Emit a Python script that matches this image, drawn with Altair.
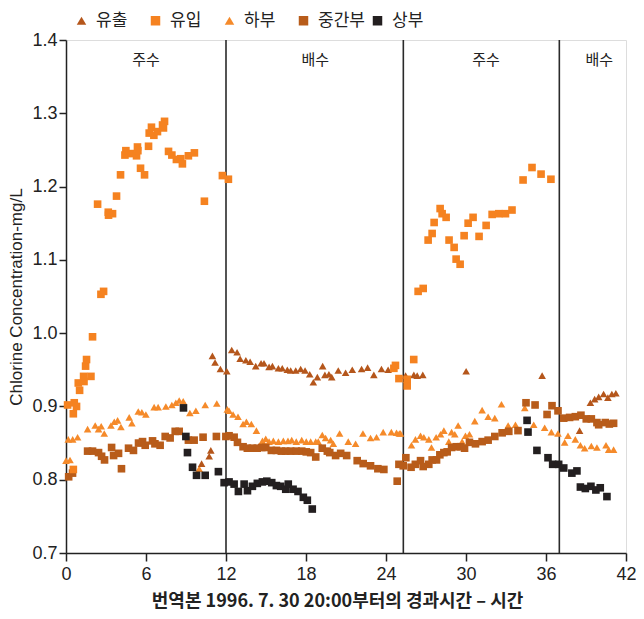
import altair as alt
import pandas as pd

# ---------------- data ----------------
series_names = ["유출", "유입", "하부", "중간부", "상부"]
series_colors = ["#B5561B", "#F58220", "#F58A2A", "#B85C1A", "#231F20"]
series_shapes = ["triangle-up", "square", "triangle-up", "square", "square"]

# 유출 (outflow)
outflow_x = [10.17, 10.74, 10.86, 10.98, 11.18, 11.58, 12.06, 12.43, 12.83, 13.06, 13.49, 13.81,
             14.23, 14.63, 14.85, 15.23, 15.48, 15.93, 16.22, 16.6, 16.85, 17.23, 17.6, 17.93,
             18.28, 18.55, 18.85, 19.25, 19.42, 19.72, 19.93, 20.42, 20.97, 21.47, 22.17, 22.62,
             23.09, 23.66, 24.16, 25.47, 26.09, 26.34, 26.76, 30.01, 35.71, 38.52,
             39.33, 39.65, 39.95, 40.32, 40.64, 40.94, 41.24]
outflow_y = [0.822, 0.832, 0.840, 0.969, 0.960, 0.951, 0.948, 0.977, 0.974, 0.965, 0.963, 0.961,
             0.955, 0.959, 0.959, 0.954, 0.955, 0.952, 0.952, 0.950, 0.949, 0.949, 0.951, 0.949,
             0.944, 0.933, 0.940, 0.955, 0.943, 0.944, 0.940, 0.949, 0.946, 0.950, 0.951, 0.953,
             0.943, 0.951, 0.950, 0.942, 0.943, 0.942, 0.943, 0.948, 0.942, 0.867,
             0.905, 0.910, 0.913, 0.917, 0.912, 0.917, 0.918]

# 유입 (inflow)
inflow_x = [0.12, 0.55, 0.62, 0.79, 0.55, 0.92, 1.02, 1.35, 1.32, 1.87, 1.47, 1.54, 1.99,
            2.62, 2.82, 2.37, 3.17, 3.49, 3.19, 3.79, 4.09, 4.42, 4.49, 4.87, 5.29, 5.36,
            5.39, 5.59, 5.89, 6.19, 6.24, 6.41, 6.59, 6.86, 7.24, 7.31, 7.39, 7.69, 7.94,
            8.28, 8.61, 8.73, 9.18, 9.63, 10.38, 11.73, 12.18,
            24.59, 24.71, 24.97, 25.59, 25.59, 26.08, 26.41, 26.79, 27.16, 27.46, 27.61, 28.06,
            28.21, 28.51, 28.73, 29.11, 29.26, 29.56, 29.86, 30.16, 30.53, 30.98, 31.51,
            31.96, 32.46, 32.96, 33.45, 34.28, 34.95, 35.63, 36.37]
inflow_y = [0.902, 0.890, 0.905, 0.900, 0.814, 0.932, 0.922, 0.934, 0.941, 0.941, 0.955, 0.964, 0.995,
            1.053, 1.057, 1.176, 1.165, 1.163, 1.161, 1.187, 1.216, 1.243, 1.249, 1.245, 1.242, 1.254,
            1.249, 1.225, 1.216, 1.255, 1.273, 1.281, 1.270, 1.275, 1.284, 1.280, 1.289, 1.248, 1.243,
            1.237, 1.238, 1.231, 1.242, 1.246, 1.180, 1.215, 1.210,
            0.952, 0.956, 0.938, 0.937, 0.928, 0.964, 1.057, 1.061, 1.127, 1.136, 1.151, 1.170,
            1.163, 1.158, 1.127, 1.117, 1.101, 1.094, 1.133, 1.150, 1.158, 1.132, 1.147,
            1.162, 1.163, 1.163, 1.168, 1.209, 1.226, 1.217, 1.210]

# 하부 (lower)
lower_x = [0.0, 0.3, 0.17, 0.5, 0.87, 1.62, 2.19, 2.44, 2.64, 2.87, 3.37, 3.62, 3.87, 4.12,
           4.74, 4.94, 5.42, 5.69, 5.99, 6.61, 6.91, 7.49, 7.94, 8.24, 8.49, 8.79, 9.29, 9.74,
           9.99, 10.44, 11.31, 12.1, 12.23, 12.53, 12.9, 13.28, 13.53, 13.9, 14.28, 14.73,
           14.98, 15.23, 15.55, 15.93, 16.3, 16.65, 16.93, 17.27, 17.68, 18.02, 18.35, 18.73,
           18.92, 19.22, 19.47, 19.85, 20.05, 20.52, 21.17, 21.72, 22.27, 22.84, 23.29, 23.79,
           24.4, 24.79, 25.0, 25.09, 25.91, 26.21, 26.59, 26.84, 27.21, 27.41, 27.76, 28.09,
           28.34, 28.71, 28.92, 29.16, 29.41, 29.71, 29.96, 30.26, 30.66, 31.21, 31.66, 32.16,
           32.66, 33.16, 33.71, 34.41, 35.08, 35.9, 36.4, 36.9, 37.4, 37.65, 38.2, 38.58, 38.9,
           39.4, 39.82, 40.5, 40.7, 41.07]
lower_y = [0.826, 0.827, 0.855, 0.855, 0.858, 0.869, 0.874, 0.869, 0.873, 0.863, 0.874, 0.879, 0.881, 0.872,
           0.885, 0.877, 0.893, 0.892, 0.889, 0.899, 0.899, 0.900, 0.902, 0.905, 0.908, 0.907, 0.891, 0.894,
           0.815, 0.902, 0.904, 0.896, 0.894, 0.889, 0.886, 0.876, 0.879, 0.876, 0.867, 0.853,
           0.856, 0.852, 0.853, 0.852, 0.853, 0.853, 0.854, 0.852, 0.854, 0.852, 0.852, 0.852,
           0.852, 0.861, 0.857, 0.854, 0.849, 0.863, 0.852, 0.849, 0.863, 0.857, 0.858, 0.865,
           0.865, 0.864, 0.863, 0.863, 0.847, 0.855, 0.860, 0.858, 0.855, 0.844, 0.858, 0.862,
           0.867, 0.852, 0.865, 0.862, 0.874, 0.852, 0.860, 0.862, 0.880, 0.895, 0.886, 0.884,
           0.903, 0.874, 0.875, 0.898, 0.875, 0.871, 0.865, 0.863, 0.851, 0.860, 0.855, 0.847, 0.843,
           0.846, 0.844, 0.847, 0.841, 0.841]

# 중간부 (middle)
middle_x = [0.2, 0.49, 1.62, 1.99, 2.44, 2.67, 2.89, 3.42, 3.57, 3.94, 4.16, 4.69, 5.06, 5.44,
            5.74, 5.94, 6.49, 6.67, 7.06, 7.44, 7.81, 8.19, 8.49, 9.18, 9.61, 10.28, 11.28, 11.99,
            12.23, 12.61, 12.86, 13.28, 13.6, 13.98, 14.35, 14.68, 14.98, 15.4, 15.78, 16.15,
            16.48, 16.85, 17.27, 17.68, 18.02, 18.35, 18.73, 19.22, 19.6, 19.78, 20.22, 20.6,
            21.05, 21.84, 22.29, 22.84, 23.39, 23.84, 24.84, 24.97, 25.29, 25.49, 25.88, 26.2,
            26.59, 26.79, 27.21, 27.46, 27.79, 28.04, 28.34, 28.59, 28.92, 29.26, 29.59, 29.89,
            30.26, 30.71, 31.21, 31.66, 32.16, 32.71, 33.21, 33.9, 34.5, 35.18, 36.08, 36.45,
            36.9, 37.33, 37.77, 38.2, 38.62, 39.02, 39.4, 39.82, 39.95, 40.45, 40.75, 41.07]
middle_y = [0.804, 0.809, 0.839, 0.839, 0.837, 0.832, 0.827, 0.844, 0.833, 0.836, 0.815, 0.843, 0.840, 0.850,
            0.852, 0.847, 0.853, 0.849, 0.847, 0.859, 0.857, 0.866, 0.866, 0.854, 0.854, 0.858, 0.859, 0.859,
            0.860, 0.858, 0.851, 0.845, 0.843, 0.843, 0.843, 0.844, 0.844, 0.840, 0.840, 0.839,
            0.839, 0.839, 0.839, 0.839, 0.838, 0.837, 0.831, 0.843, 0.839, 0.837, 0.833, 0.836,
            0.833, 0.826, 0.822, 0.819, 0.815, 0.814, 0.798, 0.821, 0.819, 0.830, 0.817, 0.821,
            0.826, 0.818, 0.821, 0.827, 0.827, 0.834, 0.837, 0.838, 0.844, 0.845, 0.845, 0.843,
            0.851, 0.849, 0.852, 0.854, 0.859, 0.864, 0.866, 0.867, 0.905, 0.902, 0.889, 0.901,
            0.894, 0.884, 0.885, 0.886, 0.888, 0.883, 0.883, 0.878, 0.875, 0.878, 0.876, 0.877]

# 상부 (upper)
upper_x = [8.81, 8.99, 9.11, 9.49, 9.79, 10.44, 11.43, 11.86, 12.23, 12.61, 12.93, 13.36, 13.61,
           13.98, 14.35, 14.73, 15.06, 15.43, 15.78, 16.1, 16.48, 16.67, 17.03, 17.4, 17.8, 18.1,
           18.47, 34.58, 34.65, 35.32, 36.15, 36.5, 36.95, 37.33, 37.94, 38.32, 38.58, 38.95,
           39.37, 39.74, 40.07, 40.57]
upper_y = [0.898, 0.859, 0.837, 0.817, 0.806, 0.806, 0.811, 0.796, 0.797, 0.794, 0.784, 0.794, 0.785,
           0.791, 0.795, 0.797, 0.798, 0.796, 0.792, 0.791, 0.787, 0.794, 0.787, 0.784, 0.776, 0.772,
           0.760, 0.881, 0.865, 0.840, 0.830, 0.821, 0.821, 0.816, 0.809, 0.812, 0.790, 0.788,
           0.791, 0.786, 0.789, 0.777]

x_ticks = [0, 6, 12, 18, 24, 30, 36, 42]
y_ticks = [0.7, 0.8, 0.9, 1.0, 1.1, 1.2, 1.3, 1.4]
phase_boundaries = [12, 25.3, 37]
phase_labels = ["주수", "배수", "주수", "배수"]
phase_label_x = [6, 18.7, 31.5, 40]
phase_label_y = [1.373, 1.373, 1.373, 1.373]

x_title = "번역본 1996. 7. 30 20:00부터의 경과시간 – 시간"
y_title = "Chlorine Concentration-mg/L"

# ---------------- build tables ----------------
draw_order = ["하부", "유출", "중간부", "유입", "상부"]
series_data = {
    "유출": (outflow_x, outflow_y),
    "유입": (inflow_x, inflow_y),
    "하부": (lower_x, lower_y),
    "중간부": (middle_x, middle_y),
    "상부": (upper_x, upper_y),
}
rows = []
for name in draw_order:
    xs, ys = series_data[name]
    for xv, yv in zip(xs, ys):
        rows.append({"t": xv, "c": yv, "series": name})
points_df = pd.DataFrame(rows)
bound_df = pd.DataFrame({"t": phase_boundaries})
label_df = pd.DataFrame({"t": phase_label_x, "c": phase_label_y, "label": phase_labels})

W, H = 560, 513
NUM_FONT = "Liberation Sans Narrow, Liberation Sans, Arial, sans-serif"
KR_FONT = "Noto Sans CJK KR"

x_scale = alt.Scale(domain=[0, 42], nice=False, zero=False)
y_scale = alt.Scale(domain=[0.7, 1.4], nice=False, zero=False)

x_enc = alt.X(
    "t:Q", scale=x_scale,
    axis=alt.Axis(values=x_ticks, title=x_title, tickSize=8, tickWidth=1.5, tickColor="#222",
                  labelPadding=4, labelFont=NUM_FONT, labelFontSize=18, labelColor="#222",
                  titleFont=KR_FONT, titleFontSize=18, titleFontWeight="bold",
                  titleColor="#222", titleX=271, titleY=53, titleAlign="center",
                  titleBaseline="alphabetic", grid=False,
                  domainColor="#222", domainWidth=1.5, labelFlush=False),
)
y_enc = alt.Y(
    "c:Q", scale=y_scale,
    axis=alt.Axis(values=y_ticks, format=".1f", title=y_title, tickSize=7, tickWidth=1.5,
                  tickColor="#222", labelPadding=2, labelFont=NUM_FONT, labelFontSize=18,
                  labelColor="#222", titleFont="Liberation Sans, Arial, sans-serif",
                  titleFontSize=17, titleFontWeight="normal", titleColor="#222",
                  titleAngle=270, titleX=-45, titleY=H / 2, titleAlign="center",
                  titleBaseline="alphabetic", grid=False, domainColor="#222", domainWidth=1.5,
                  labelFlush=False),
)

rules = alt.Chart(bound_df).mark_rule(color="#2a2a2a", strokeWidth=1.6).encode(
    x=alt.X("t:Q", scale=x_scale), y=alt.value(0), y2=alt.value(H)
)

labels = alt.Chart(label_df).mark_text(font=KR_FONT, fontSize=15, color="#222").encode(
    x=alt.X("t:Q", scale=x_scale), y=alt.Y("c:Q", scale=y_scale), text="label:N"
)

legend_common = dict(title=None, orient="none", legendX=7, legendY=-28,
                     direction="horizontal", columns=5, gridAlign="all",
                     columnPadding=4, symbolSize=90, symbolStrokeWidth=0,
                     labelFont=KR_FONT, labelFontSize=17, labelColor="#222",
                     labelOffset=6, labelLimit=200)

pts = alt.Chart(points_df).mark_point(filled=True, size=58, opacity=1, strokeWidth=0).encode(
    x=x_enc,
    y=y_enc,
    color=alt.Color("series:N", scale=alt.Scale(domain=series_names, range=series_colors),
                    legend=alt.Legend(**legend_common)),
    shape=alt.Shape("series:N", scale=alt.Scale(domain=series_names, range=series_shapes),
                    legend=alt.Legend(**legend_common)),
)

chart = alt.layer(rules, pts, labels).properties(
    width=W, height=H,
    autosize=alt.AutoSizeParams(type="none"),
    padding={"left": 58, "top": 32, "right": 10, "bottom": 58},
).configure_view(stroke=None).configure(background="white")

chart.save("out.html", embed_options={"renderer": "svg", "actions": False})
